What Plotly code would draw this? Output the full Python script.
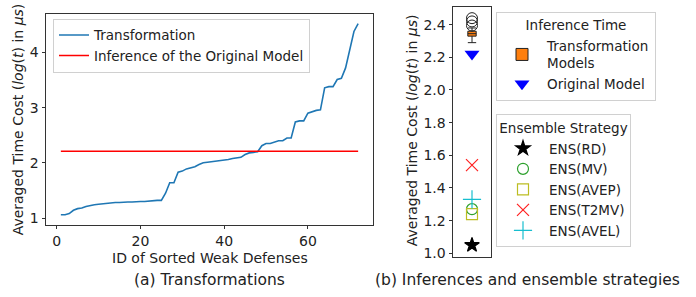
import plotly.graph_objects as go

# ---------------- data ----------------
defense_ids = list(range(1, 73))
transformation_cost = [
    1.06, 1.06, 1.08, 1.14, 1.17, 1.18, 1.21, 1.23, 1.24, 1.25,
    1.26, 1.27, 1.27, 1.28, 1.28, 1.29, 1.29, 1.29, 1.30, 1.30,
    1.30, 1.31, 1.31, 1.32, 1.32, 1.45, 1.64, 1.64, 1.83, 1.85,
    1.89, 1.91, 1.93, 1.97, 2.00, 2.01, 2.02, 2.02, 2.03, 2.04,
    2.06, 2.08, 2.09, 2.10, 2.15, 2.18, 2.19, 2.20, 2.31, 2.35,
    2.35, 2.37, 2.40, 2.40, 2.45, 2.45, 2.74, 2.76, 2.76, 2.90,
    2.93, 2.95, 2.96, 3.36, 3.38, 3.38, 3.51, 3.53, 3.72, 4.05,
    4.38, 4.52,
]
original_inference = 2.21

# inference time of transformation models (box statistics)
box_q1 = 2.33
box_median = 2.345
box_q3 = 2.36
box_lower = 2.29
box_upper = 2.38
box_fliers = [2.395, 2.42, 2.44]
original_model_time = 2.22

ens_names = ["ENS(RD)", "ENS(MV)", "ENS(AVEP)", "ENS(T2MV)", "ENS(AVEL)"]
ens_values = [1.05, 1.27, 1.24, 1.54, 1.33]
ens_symbols = ["star", "circle-open", "square-open", "x-thin-open", "cross-thin-open"]
ens_colors = ["black", "#2ca02c", "#bcbd22", "#ff2020", "#17becf"]
ens_sizes = [11, 11, 11, 12, 13]

FONT = "DejaVu Sans"
W, H = 696, 297

fig = go.Figure()

# ---------------- (a) ----------------
fig.add_trace(go.Scatter(
    x=defense_ids, y=transformation_cost, mode="lines",
    line=dict(color="#1f77b4", width=1.6), name="Transformation",
    xaxis="x", yaxis="y", legend="legend",
))
fig.add_trace(go.Scatter(
    x=[defense_ids[0], defense_ids[-1]], y=[original_inference] * 2, mode="lines",
    line=dict(color="red", width=1.6), name="Inference of the Original Model",
    xaxis="x", yaxis="y", legend="legend",
))

# ---------------- (b) ----------------
fig.add_trace(go.Box(
    x=[1], q1=[box_q1], median=[box_median], q3=[box_q3],
    lowerfence=[box_lower], upperfence=[box_upper],
    width=0.22, whiskerwidth=1, fillcolor="#ff7f0e",
    line=dict(color="#222", width=1), name="Transformation<br>Models",
    xaxis="x2", yaxis="y2", legend="legend2", boxpoints=False,
))
fig.add_trace(go.Scatter(
    x=[1] * len(box_fliers), y=box_fliers, mode="markers",
    marker=dict(symbol="circle-open", size=11, color="#222", line=dict(width=1)),
    showlegend=False, xaxis="x2", yaxis="y2", hoverinfo="y",
))
fig.add_trace(go.Scatter(
    x=[1], y=[original_model_time], mode="markers",
    marker=dict(symbol="triangle-down", size=13, color="blue"),
    name="Original Model", xaxis="x2", yaxis="y2", legend="legend2",
))
for nm, v, sym, col, sz in zip(ens_names, ens_values, ens_symbols, ens_colors, ens_sizes):
    fig.add_trace(go.Scatter(
        x=[1], y=[v], mode="markers",
        marker=dict(symbol=sym, size=sz, color=col, line=dict(width=1.2, color=col)),
        name=nm, xaxis="x2", yaxis="y2", legend="legend3",
    ))

axis_common = dict(
    showline=True, mirror=True, linecolor="#333333", linewidth=1,
    ticks="outside", ticklen=3.5, tickcolor="#333333", showgrid=False, zeroline=False,
    tickfont=dict(family=FONT, size=14, color="#222"),
)

def px_x(p):
    return p / W

def px_y(p):
    return 1 - p / H

legend_common = dict(
    bgcolor="rgba(255,255,255,0.9)", bordercolor="#d0d0d0", borderwidth=1,
    font=dict(family=FONT, size=13.5, color="#222"),
    xanchor="left", yanchor="top",
)

def ann(text, x, y, size=14, angle=0):
    return dict(text=text, x=px_x(x), y=px_y(y), xref="paper", yref="paper",
                xanchor="center", yanchor="middle", textangle=angle,
                showarrow=False, font=dict(family=FONT, size=size, color="#222"))

ytitle = "Averaged Time Cost (<i>log</i>(<i>t</i>) in <i>μs</i>)"

fig.update_layout(
    width=W, height=H, margin=dict(l=0, r=0, t=0, b=0),
    plot_bgcolor="white", paper_bgcolor="white",
    font=dict(family=FONT, size=14, color="#222"),
    xaxis=dict(domain=[px_x(46), px_x(373)], range=[-2.55, 75.55],
               tickvals=[0, 20, 40, 60], anchor="y", **axis_common),
    yaxis=dict(domain=[px_y(228), px_y(14)], range=[0.875, 4.70],
               tickvals=[1, 2, 3, 4], anchor="x", **axis_common),
    xaxis2=dict(domain=[px_x(453), px_x(491)], range=[0.5, 1.5],
                showticklabels=False, anchor="y2",
                **{**axis_common, "ticks": ""}),
    yaxis2=dict(domain=[px_y(261), px_y(7)], range=[0.974, 2.509],
                tickvals=[1.0, 1.2, 1.4, 1.6, 1.8, 2.0, 2.2, 2.4], tickformat=".1f",
                anchor="x2", **axis_common),
    legend=dict(x=px_x(53), y=px_y(19), **legend_common),
    legend2=dict(x=px_x(496), y=px_y(12), itemwidth=40,
                 title=dict(text="Inference Time", side="top center",
                            font=dict(family=FONT, size=13.5, color="#222")),
                 **legend_common),
    legend3=dict(x=px_x(496), y=px_y(116), itemwidth=42,
                 title=dict(text="Ensemble Strategy", side="top center",
                            font=dict(family=FONT, size=13.5, color="#222")),
                 **legend_common),
    annotations=[
        ann(ytitle, 18, 121, angle=-90),
        ann(ytitle, 412, 132, angle=-90),
        ann("ID of Sorted Weak Defenses", 209.5, 261.5),
        ann("(a) Transformations", 209.5, 284, size=15.5),
        ann("(b) Inferences and ensemble strategies", 527.5, 284, size=15.5),
    ],
)

fig.write_html(
    "out.html",
    config={"displayModeBar": False},
    post_script="document.body.style.margin='0';document.body.style.overflow='hidden';",
)
